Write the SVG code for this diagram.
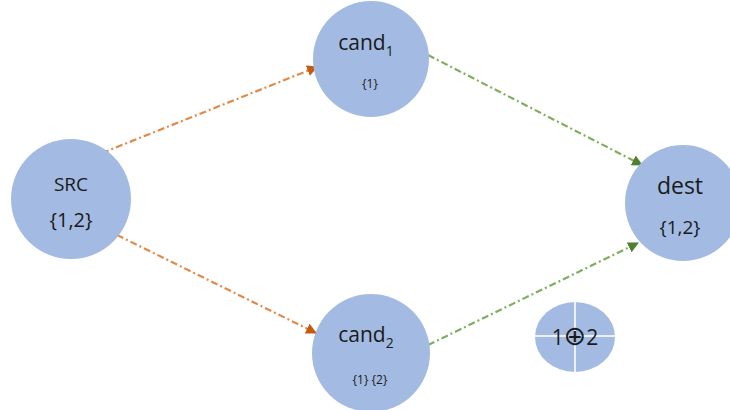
<svg xmlns="http://www.w3.org/2000/svg" width="730" height="410" viewBox="0 0 730 410">
  <style>
    .node { fill: #a3bbe2; }
    .lbl { font-family: "Open Sans", "Liberation Sans", sans-serif; fill: #1a1a1a; text-anchor: middle; }
    .edge { fill: none; stroke-width: 2.2; stroke-dasharray: 7 3 2 3; }
    .orange { stroke: #e08a4a; }
    .green { stroke: #7fae5c; }
    .cross { stroke: #ffffff; stroke-width: 2; opacity: 0.8; }
  </style>
  <defs>
    <marker id="arrOrange" viewBox="0 0 10 10" refX="9" refY="5" markerWidth="5" markerHeight="5" orient="auto" markerUnits="strokeWidth">
      <path d="M0,0 L10,5 L0,10 z" fill="#c55a11"/>
    </marker>
    <marker id="arrGreen" viewBox="0 0 10 10" refX="9" refY="5" markerWidth="5" markerHeight="5" orient="auto" markerUnits="strokeWidth">
      <path d="M0,0 L10,5 L0,10 z" fill="#4f7f2f"/>
    </marker>
  </defs>

  <g id="connectors">
    <line class="edge orange" x1="102" y1="153" x2="317" y2="67" marker-end="url(#arrOrange)"/>
    <line class="edge orange" x1="117" y1="235" x2="316" y2="333" marker-end="url(#arrOrange)"/>
    <line class="edge green" x1="428" y1="55" x2="642" y2="165" marker-end="url(#arrGreen)"/>
    <line class="edge green" x1="428" y1="345" x2="638" y2="243" marker-end="url(#arrGreen)"/>
  </g>

  <g id="src">
    <circle class="node" cx="71" cy="199" r="60"/>
    <text class="lbl" x="71" y="191" font-size="19">SRC</text>
    <text class="lbl" x="71" y="227" font-size="20">{1,2}</text>
  </g>

  <g id="cand1">
    <circle class="node" cx="371" cy="59" r="58"/>
    <text class="lbl" x="366" y="50" font-size="21">cand<tspan font-size="14" dy="6">1</tspan></text>
    <text class="lbl" x="370" y="88" font-size="12">{1}</text>
  </g>

  <g id="cand2">
    <circle class="node" cx="371" cy="353" r="59"/>
    <text class="lbl" x="366" y="342" font-size="21">cand<tspan font-size="14" dy="6">2</tspan></text>
    <text class="lbl" x="370" y="384" font-size="12">{1} {2}</text>
  </g>

  <g id="dest">
    <circle class="node" cx="683" cy="203" r="58"/>
    <text class="lbl" x="680" y="194" font-size="23">dest</text>
    <text class="lbl" x="680" y="234" font-size="19">{1,2}</text>
  </g>

  <g id="xor">
    <ellipse class="node" cx="575" cy="337" rx="40" ry="35"/>
    <line class="cross" x1="575" y1="302" x2="575" y2="372"/>
    <line class="cross" x1="535" y1="336" x2="615" y2="336"/>
    <text class="lbl" x="575" y="345" font-size="21">1<tspan style="font-family:'DejaVu Sans',sans-serif;font-size:27px">⊕</tspan>2</text>
  </g>
</svg>
